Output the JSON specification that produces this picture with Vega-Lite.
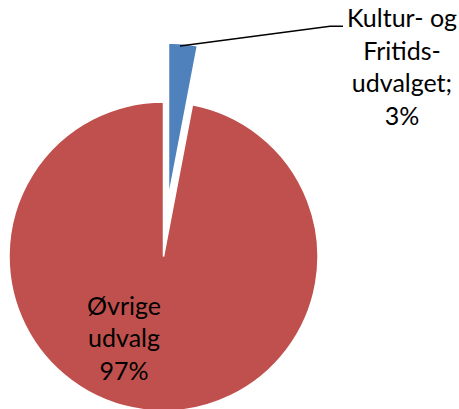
{
  "$schema": "https://vega.github.io/schema/vega-lite/v6.json",
  "width": 309,
  "height": 305,
  "autosize": {"type": "none"},
  "padding": {"left": 9, "top": 104, "right": 141, "bottom": 0},
  "background": "white",
  "config": {"view": {"stroke": null}},
  "data": {
    "values": [
      {"kategori": "Kultur- og Fritidsudvalget", "andel": 3, "rekkefolge": 1, "etikett": "Kultur- og\nFritids-\nudvalget;\n3%"},
      {"kategori": "Øvrige udvalg", "andel": 97, "rekkefolge": 2, "etikett": "Øvrige\nudvalg\n97%"}
    ]
  },
  "layer": [
    {
      "mark": {"type": "arc", "outerRadius": 154.5, "stroke": "white", "strokeWidth": 1.5},
      "encoding": {
        "theta": {"field": "andel", "type": "quantitative", "stack": true},
        "order": {"field": "rekkefolge"},
        "color": {"field": "kategori", "type": "nominal", "scale": {"domain": ["Kultur- og Fritidsudvalget", "Øvrige udvalg"], "range": ["#4F81BD", "#C0504D"]}, "legend": null},
        "opacity": {"condition": {"test": "datum.rekkefolge === 2", "value": 1}, "value": 0}
      }
    },
    {
      "mark": {"type": "arc", "outerRadius": 154.5, "stroke": "white", "strokeWidth": 1.5, "xOffset": 5, "yOffset": -59},
      "encoding": {
        "theta": {"field": "andel", "type": "quantitative", "stack": true},
        "order": {"field": "rekkefolge"},
        "color": {"field": "kategori", "type": "nominal", "scale": {"domain": ["Kultur- og Fritidsudvalget", "Øvrige udvalg"], "range": ["#4F81BD", "#C0504D"]}, "legend": null},
        "opacity": {"condition": {"test": "datum.rekkefolge === 1", "value": 1}, "value": 0}
      }
    },
    {
      "mark": {"type": "text", "font": "Lato", "fontSize": 25, "lineHeight": 32.5, "lineBreak": "\n", "align": "center", "baseline": "middle", "radius": 190, "dx": 220.6, "dy": -47.9, "color": "black"},
      "encoding": {
        "theta": {"field": "andel", "type": "quantitative", "stack": true},
        "order": {"field": "rekkefolge"},
        "text": {"condition": {"test": "datum.rekkefolge === 1", "field": "etikett"}, "value": ""}
      }
    },
    {
      "mark": {"type": "text", "font": "Lato", "fontSize": 25, "lineHeight": 32.5, "lineBreak": "\n", "align": "center", "baseline": "middle", "radius": 85, "dx": -31.5, "dy": -34.5, "color": "black"},
      "encoding": {
        "theta": {"field": "andel", "type": "quantitative", "stack": true},
        "order": {"field": "rekkefolge"},
        "text": {"condition": {"test": "datum.rekkefolge === 2", "field": "etikett"}, "value": ""}
      }
    },
    {
      "data": {"values": [
        {"punkt": 1, "lx": 0.107, "ly": 1.38},
        {"punkt": 2, "lx": 1.078, "ly": 1.51},
        {"punkt": 3, "lx": 1.162, "ly": 1.51}
      ]},
      "mark": {"type": "line", "color": "black", "strokeWidth": 1.5},
      "encoding": {
        "x": {"field": "lx", "type": "quantitative", "scale": {"domain": [-1, 1], "nice": false, "zero": false}, "axis": null},
        "y": {"field": "ly", "type": "quantitative", "scale": {"domain": [-1, 1], "nice": false, "zero": false}, "axis": null},
        "order": {"field": "punkt"}
      }
    }
  ]
}
